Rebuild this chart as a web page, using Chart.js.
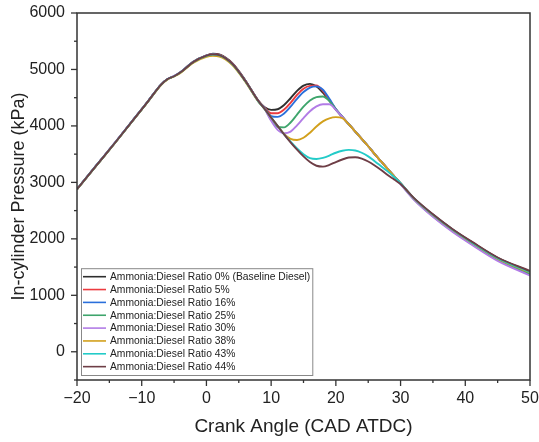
<!DOCTYPE html>
<html>
<head>
<meta charset="utf-8">
<script src="https://cdn.jsdelivr.net/npm/chart.js@4/dist/chart.umd.min.js"></script>
<style>
html,body{margin:0;padding:0;background:#fff;}
#wrap{width:539px;height:442px;position:relative;}
</style>
</head>
<body>
<div id="wrap"><canvas id="c" width="539" height="442"></canvas></div>
<script>
// Crank angle grid (CAD ATDC)
const crankAngle = [-20,-17,-14,-11,-9,-7,-6,-5,-4,-2,0,1,2,4,6,8,9,10,11,12,13,14,15,16,17,18,19,20,21,22,23,24,25,26,27,28,29,30,32,35,38,41,45,50];

// In-cylinder pressure (kPa) per ammonia:diesel ratio
const ratio0  = [2880,3300,3720,4150,4440,4730,4830,4880,4950,5140,5250,5280,5265,5110,4810,4450,4330,4285,4295,4370,4490,4620,4715,4745,4700,4590,4450,4290,4160,4030,3900,3770,3640,3500,3370,3240,3110,2985,2725,2430,2170,1945,1665,1420];
const ratio5  = [2880,3300,3720,4150,4440,4730,4830,4880,4950,5135,5245,5270,5258,5105,4805,4450,4325,4225,4225,4290,4410,4550,4660,4710,4715,4620,4460,4295,4160,4030,3900,3770,3640,3500,3370,3240,3110,2980,2718,2415,2155,1925,1645,1390];
const ratio16 = [2880,3300,3720,4150,4440,4730,4830,4880,4950,5135,5245,5268,5255,5100,4800,4445,4315,4175,4160,4220,4340,4480,4600,4680,4700,4640,4480,4300,4160,4030,3900,3770,3640,3500,3370,3240,3110,2975,2710,2400,2140,1910,1625,1370];
const ratio25 = [2880,3300,3720,4150,4440,4730,4830,4880,4950,5135,5240,5260,5250,5095,4795,4440,4300,4110,3980,3975,4060,4200,4340,4450,4510,4520,4440,4295,4160,4030,3900,3770,3640,3500,3370,3240,3110,2978,2715,2410,2150,1920,1635,1380];
const ratio30 = [2880,3305,3725,4155,4445,4735,4835,4885,4955,5140,5245,5262,5250,5095,4795,4440,4300,4090,3930,3870,3900,4010,4140,4260,4345,4385,4385,4285,4160,4030,3900,3770,3640,3500,3370,3240,3110,2970,2700,2390,2125,1895,1610,1350];
const ratio38 = [2875,3295,3715,4145,4435,4725,4825,4875,4940,5120,5225,5240,5230,5080,4785,4435,4300,4150,4000,3860,3770,3750,3790,3880,3990,4080,4135,4155,4140,4030,3900,3770,3640,3500,3370,3240,3110,2982,2722,2420,2160,1930,1650,1400];
const ratio43 = [2880,3300,3720,4150,4440,4730,4830,4880,4950,5135,5240,5262,5250,5095,4795,4440,4300,4150,4000,3850,3720,3600,3500,3430,3415,3435,3475,3525,3560,3575,3565,3525,3460,3375,3285,3195,3095,2985,2725,2425,2165,1938,1658,1410];
const ratio44 = [2880,3300,3720,4150,4440,4730,4830,4880,4950,5135,5245,5268,5255,5100,4800,4445,4300,4150,4000,3850,3710,3580,3460,3360,3295,3280,3310,3360,3405,3440,3445,3420,3370,3300,3220,3130,3050,2970,2730,2435,2175,1950,1670,1430];

const seriesLabels = [
  'Ammonia:Diesel Ratio 0% (Baseline Diesel)',
  'Ammonia:Diesel Ratio 5%',
  'Ammonia:Diesel Ratio 16%',
  'Ammonia:Diesel Ratio 25%',
  'Ammonia:Diesel Ratio 30%',
  'Ammonia:Diesel Ratio 38%',
  'Ammonia:Diesel Ratio 43%',
  'Ammonia:Diesel Ratio 44%'
];
const seriesValues = [ratio0, ratio5, ratio16, ratio25, ratio30, ratio38, ratio43, ratio44];
const seriesColors = ['#2e2e2e','#ec3b3f','#2a6fdb','#3ea56c','#b27ce6','#d2a01c','#23cbc8','#6e3e46'];

const xTicks = [-20,-10,0,10,20,30,40,50];
const yTicks = [0,1000,2000,3000,4000,5000,6000];

const FONT = "'Liberation Sans', Arial, Helvetica, sans-serif";

const datasets = seriesValues.map((vals, i) => ({
  label: seriesLabels[i],
  data: crankAngle.map((x, j) => ({x: x, y: vals[j]})),
  borderColor: seriesColors[i],
  backgroundColor: seriesColors[i],
  borderWidth: 1.9,
  pointRadius: 0,
  fill: false,
  cubicInterpolationMode: 'monotone',
  order: seriesValues.length - i
}));

const framePlugin = {
  id: 'frame',
  afterDraw(chart) {
    const ctx = chart.ctx;
    const a = chart.chartArea;
    const xs = chart.scales.x, ys = chart.scales.y;
    ctx.save();
    ctx.strokeStyle = '#333';
    ctx.lineWidth = 1.5;
    ctx.strokeRect(a.left, a.top, a.right - a.left, a.bottom - a.top);
    ctx.lineWidth = 1.3;
    for (let v = -20; v <= 50; v += 5) {
      const px = xs.getPixelForValue(v);
      const len = (v % 10 === 0) ? 6 : 3;
      ctx.beginPath(); ctx.moveTo(px, a.bottom); ctx.lineTo(px, a.bottom + len); ctx.stroke();
    }
    for (let v = -500; v <= 6000; v += 500) {
      const py = ys.getPixelForValue(v);
      const len = (v % 1000 === 0) ? 6 : 3;
      ctx.beginPath(); ctx.moveTo(a.left, py); ctx.lineTo(a.left - len, py); ctx.stroke();
    }
    // legend inside plot, bottom-left
    ctx.font = '10.3px ' + FONT;
    let maxW = 0;
    seriesLabels.forEach(t => { maxW = Math.max(maxW, ctx.measureText(t).width); });
    const rowH = 12.85;
    const bx = a.left + 4, bw = 2 + 24 + 4 + maxW + 1;
    const bh = rowH * 8 + 4;
    const by = a.bottom - 5 - bh;
    ctx.fillStyle = '#fff';
    ctx.fillRect(bx, by, bw, bh);
    ctx.strokeStyle = '#888';
    ctx.lineWidth = 1;
    ctx.strokeRect(bx + 0.5, by + 0.5, bw, bh);
    ctx.textBaseline = 'middle';
    ctx.textAlign = 'left';
    seriesLabels.forEach((t, i) => {
      const cy = by + 8.5 + i * rowH;
      ctx.strokeStyle = seriesColors[i];
      ctx.lineWidth = 1.6;
      ctx.beginPath(); ctx.moveTo(bx + 2, cy); ctx.lineTo(bx + 25, cy); ctx.stroke();
      ctx.fillStyle = '#222';
      ctx.fillText(t, bx + 29, cy + 0.5);
    });
    ctx.restore();
  }
};

new Chart(document.getElementById('c'), {
  type: 'line',
  data: { datasets: datasets },
  options: {
    responsive: false,
    animation: false,
    layout: { padding: { top: 13, right: 9, left: 0, bottom: 0 } },
    plugins: { legend: { display: false }, tooltip: { enabled: false } },
    scales: {
      x: {
        type: 'linear',
        min: -20, max: 50,
        afterBuildTicks(s) { s.ticks = xTicks.map(v => ({value: v})); },
        afterFit(s) { s.height = 62; s.paddingLeft = 0; s.paddingRight = 0; },
        grid: { display: false, drawTicks: false },
        border: { display: false },
        ticks: {
          padding: 9,
          autoSkip: false,
          maxRotation: 0,
          color: '#222',
          font: { family: FONT, size: 16 },
          callback: v => (v < 0 ? '\u2212' + Math.abs(v) : String(v))
        },
        title: {
          display: true,
          text: 'Crank Angle (CAD ATDC)',
          color: '#222',
          font: { family: FONT, size: 19 },
          padding: { top: 0, bottom: 4 }
        }
      },
      y: {
        type: 'linear',
        min: -500, max: 6000,
        afterBuildTicks(s) { s.ticks = yTicks.map(v => ({value: v})); },
        afterFit(s) { s.width = 77; s.paddingTop = 0; s.paddingBottom = 0; },
        grid: { display: false, drawTicks: false },
        border: { display: false },
        ticks: {
          padding: 12,
          autoSkip: false,
          color: '#222',
          font: { family: FONT, size: 16 },
          callback: v => String(v)
        },
        title: {
          display: true,
          text: 'In-cylinder Pressure (kPa)',
          color: '#222',
          font: { family: FONT, size: 18 },
          padding: { top: 8, bottom: 0 }
        }
      }
    }
  },
  plugins: [framePlugin]
});
</script>
</body>
</html>
